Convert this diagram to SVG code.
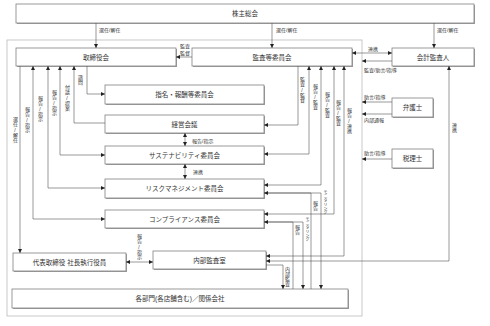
<svg xmlns="http://www.w3.org/2000/svg" width="490" height="326" viewBox="0 0 490 326">
<style>
text{font-family:"Liberation Sans","Noto Sans CJK JP",sans-serif;fill:#333}
.bl{font-size:6.5px;text-anchor:middle;dominant-baseline:central}
.sh{fill:#a0a0a0}
.bx{fill:#fff;stroke:#808080;stroke-width:0.8}
.lb{font-size:5px}
.v{font-size:5px;writing-mode:vertical-rl;text-orientation:upright}
.vs{font-size:4px;writing-mode:vertical-rl;text-orientation:upright}
.c{fill:none;stroke:#555;stroke-width:0.6}
.e{marker-end:url(#ah)}
.b{marker-end:url(#ah);marker-start:url(#ah)}
</style>
<defs>
<marker id="ah" viewBox="0 0 4 4" refX="4" refY="2" markerWidth="4" markerHeight="4" markerUnits="userSpaceOnUse" orient="auto-start-reverse">
<path d="M0,0 L4,2 L0,4 z" fill="#222"/>
</marker>
</defs>
<rect width="490" height="326" fill="#fff"/>
<rect id="container" x="7" y="40" width="355" height="276" fill="none" stroke="#bbb" stroke-width="0.8"/>

<g id="n-kabunushi"><rect class="sh" x="17" y="5" width="458" height="19"/><rect class="bx" x="16" y="4" width="458" height="19"/><text class="bl" x="245" y="13.5">株主総会</text></g>
<g id="n-torishimari"><rect class="sh" x="17" y="49" width="160" height="18"/><rect class="bx" x="16" y="48" width="160" height="18"/><text class="bl" x="96" y="57">取締役会</text></g>
<g id="n-kansa"><rect class="sh" x="193" y="49" width="160" height="18"/><rect class="bx" x="192" y="48" width="160" height="18"/><text class="bl" x="272" y="57">監査等委員会</text></g>
<g id="n-kaikei"><rect class="sh" x="393" y="49" width="82" height="18"/><rect class="bx" x="392" y="48" width="82" height="18"/><text class="bl" x="433" y="57">会計監査人</text></g>
<g id="n-shimei"><rect class="sh" x="106" y="86" width="159" height="19"/><rect class="bx" x="105" y="85" width="159" height="19"/><text class="bl" x="184.5" y="94.5">指名・報酬等委員会</text></g>
<g id="n-keiei"><rect class="sh" x="106" y="116" width="159" height="18"/><rect class="bx" x="105" y="115" width="159" height="18"/><text class="bl" x="184.5" y="124">経営会議</text></g>
<g id="n-sustain"><rect class="sh" x="106" y="147" width="159" height="18"/><rect class="bx" x="105" y="146" width="159" height="18"/><text class="bl" x="184.5" y="155">サステナビリティ委員会</text></g>
<g id="n-risk"><rect class="sh" x="106" y="180" width="159" height="19"/><rect class="bx" x="105" y="179" width="159" height="19"/><text class="bl" x="184.5" y="188.5">リスクマネジメント委員会</text></g>
<g id="n-comp"><rect class="sh" x="106" y="211" width="159" height="18"/><rect class="bx" x="105" y="210" width="159" height="18"/><text class="bl" x="184.5" y="219">コンプライアンス委員会</text></g>
<g id="n-daihyo"><rect class="sh" x="14" y="254" width="113" height="18"/><rect class="bx" x="13" y="253" width="113" height="18"/><text class="bl" x="69.5" y="262">代表取締役 社長執行役員</text></g>
<g id="n-naibu"><rect class="sh" x="154" y="252" width="113" height="18"/><rect class="bx" x="153" y="251" width="113" height="18"/><text class="bl" x="209.5" y="260">内部監査室</text></g>
<g id="n-kakubu"><rect class="sh" x="13" y="290" width="336" height="19"/><rect class="bx" x="12" y="289" width="336" height="19"/><text class="bl" x="180" y="298.5">各部門(各店舗含む)／関係会社</text></g>
<g id="n-bengo"><rect class="sh" x="393" y="99" width="41" height="19"/><rect class="bx" x="392" y="98" width="41" height="19"/><text class="bl" x="412.5" y="107.5">弁護士</text></g>
<g id="n-zeiri"><rect class="sh" x="393" y="150" width="41" height="19"/><rect class="bx" x="392" y="149" width="41" height="19"/><text class="bl" x="412.5" y="158.5">税理士</text></g>

<g id="connectors">
<path class="c e" d="M96,23 V48"/>
<path class="c e" d="M272,23 V48"/>
<path class="c e" d="M434,23 V48"/>
<path class="c e" d="M192,57 H176"/>
<path class="c b" d="M352,53 H392"/>
<path class="c e" d="M392,61 H362"/>
<path class="c e" d="M392,102 H362"/>
<path class="c e" d="M392,114 H362"/>
<path class="c e" d="M392,159 H362"/>
<path class="c b" d="M449,66 V261 H266"/>
<path class="c e" d="M87,66 V94 H105"/>
<path class="c e" d="M105,123 H74 V66"/>
<path class="c b" d="M60,66 V155 H105"/>
<path class="c b" d="M48,66 V188 H105"/>
<path class="c b" d="M33,66 V219 H105"/>
<path class="c e" d="M20,66 V253"/>
<path class="c e" d="M298,66 V125 H264"/>
<path class="c b" d="M309,66 V154 H264"/>
<path class="c b" d="M321,66 V185 H264"/>
<path class="c b" d="M334,66 V214 H264"/>
<path class="c b" d="M344,66 V256 H266"/>
<path class="c e" d="M264,193 H321 V289"/>
<path class="c e" d="M311,289 V193 H264"/>
<path class="c e" d="M264,222 H303 V289"/>
<path class="c e" d="M293,289 V222 H264"/>
<path class="c e" d="M266,265 H283 V289"/>
<path class="c b" d="M126,262 H153"/>
<path class="c b" d="M185,133 V146"/>
<path class="c b" d="M185,164 V179"/>
</g>

<g id="labels">
<text class="lb" x="99" y="32">選任/解任</text>
<text class="lb" x="276" y="32">選任/解任</text>
<text class="lb" x="437" y="32">選任/解任</text>
<text class="lb" x="185" y="48" text-anchor="middle">監査</text>
<text class="lb" x="185" y="55" text-anchor="middle">監督</text>
<text class="lb" x="368" y="51">連携</text>
<text class="lb" x="364" y="72">監査/助言/指導</text>
<text class="lb" x="364" y="99">助言/指導</text>
<text class="lb" x="364" y="122">内部通報</text>
<text class="lb" x="364" y="155">助言/指導</text>
<text class="lb" x="192" y="143">報告/指示</text>
<text class="lb" x="193" y="174">連携</text>
<text class="v" x="15" y="117">選任/解任</text>
<text class="v" x="27" y="107">報告/指示</text>
<text class="v" x="40" y="96">報告/指示</text>
<text class="v" x="54" y="90">報告/指示</text>
<text class="v" x="67" y="85">付議/提案</text>
<text class="v" x="80" y="75">諮問</text>
<text class="v" x="302" y="77">監査/監督</text>
<text class="v" x="315" y="84">報告/監査</text>
<text class="v" x="327" y="92">報告/監査</text>
<text class="v" x="338" y="100">報告/監査</text>
<text class="v" x="349" y="108">報告/連携</text>
<text class="v" x="315" y="201">報告</text>
<text class="vs" x="325" y="190">モニタリング</text>
<text class="v" x="297" y="225">報告</text>
<text class="vs" x="307" y="217">モニタリング</text>
<text class="v" x="287" y="267">内部監査</text>
<text class="v" x="139" y="234">報告/指示</text>
<text class="v" x="454" y="123">連携</text>
</g>
</svg>
